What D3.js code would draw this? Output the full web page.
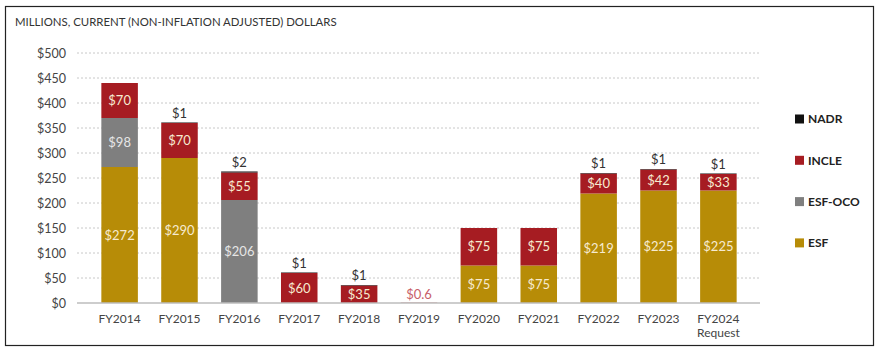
<!DOCTYPE html>
<html>
<head>
<meta charset="utf-8">
<script src="https://cdn.jsdelivr.net/npm/d3@7"></script>
<style>
  body { margin: 0; background: #fff; }
  svg { font-family: Lato, "Open Sans", sans-serif; }
</style>
</head>
<body>
<svg id="chart"></svg>
<script>
// chart data
const years = ["FY2014", "FY2015", "FY2016", "FY2017", "FY2018", "FY2019",
               "FY2020", "FY2021", "FY2022", "FY2023", "FY2024 Request"];
const esf    = [272, 290, 0, 0, 0, 0, 75, 75, 219, 225, 225];
const esfOco = [98, 0, 206, 0, 0, 0, 0, 0, 0, 0, 0];
const incle  = [70, 70, 55, 60, 35, 0.6, 75, 75, 40, 42, 33];
const nadr   = [0, 1, 2, 1, 1, 0, 0, 0, 1, 1, 1];
const yTicks = [0, 50, 100, 150, 200, 250, 300, 350, 400, 450, 500];
const seriesNames = ["ESF", "ESF-OCO", "INCLE", "NADR"];
const legendOrder = ["NADR", "INCLE", "ESF-OCO", "ESF"];

const colors = {"ESF": "#b78c07", "ESF-OCO": "#7f7f7f", "INCLE": "#a61c22", "NADR": "#111111"};

const width = 884, height = 352;
const margin = {top: 53, right: 124, bottom: 49, left: 78};
const innerW = width - margin.left - margin.right;
const innerH = height - margin.top - margin.bottom;

const svg = d3.select("#chart").attr("width", width).attr("height", height);

// frame
svg.append("rect")
  .attr("x", 5.5).attr("y", 6.5)
  .attr("width", 868).attr("height", 339)
  .attr("fill", "none").attr("stroke", "#222").attr("stroke-width", 1.2);

svg.append("text")
  .attr("x", 15).attr("y", 26)
  .style("font-size", "11.4px")
  .style("fill", "#333")
  .text("MILLIONS, CURRENT (NON-INFLATION ADJUSTED) DOLLARS");

const table = years.map((y, i) => ({
  year: y, "ESF": esf[i], "ESF-OCO": esfOco[i], "INCLE": incle[i], "NADR": nadr[i]
}));

const x = d3.scaleBand().domain(years).range([0, innerW]).padding(0.39);
const y = d3.scaleLinear().domain([0, 500]).range([innerH, 0]);

const g = svg.append("g").attr("transform", `translate(${margin.left},${margin.top})`);

// gridlines
g.append("g")
  .selectAll("line")
  .data(yTicks.filter(d => d > 0))
  .join("line")
  .attr("x1", -1).attr("x2", innerW)
  .attr("y1", d => y(d)).attr("y2", d => y(d))
  .attr("stroke", "#c8c8c8")
  .attr("stroke-dasharray", "2,2");

// y axis labels
const yAxis = d3.axisLeft(y).tickValues(yTicks).tickFormat(d => "$" + d).tickSize(0).tickPadding(12);
g.append("g").call(yAxis)
  .call(s => s.select(".domain").remove())
  .selectAll("text")
  .style("font-size", "12.5px")
  .style("fill", "#444")
  .style("font-family", "Lato, sans-serif");

const stack = d3.stack().keys(seriesNames)(table);

g.append("g")
  .selectAll("g")
  .data(stack)
  .join("g")
  .attr("fill", d => colors[d.key])
  .selectAll("rect")
  .data(d => d)
  .join("rect")
  .attr("x", d => x(d.data.year))
  .attr("width", x.bandwidth())
  .attr("y", d => y(d[1]))
  .attr("height", d => y(d[0]) - y(d[1]));

// baseline
g.append("line")
  .attr("x1", -1).attr("x2", innerW)
  .attr("y1", innerH).attr("y2", innerH)
  .attr("stroke", "#bdbdbd").attr("stroke-width", 1.5);

// labels inside segments
stack.filter(s => s.key != "NADR").forEach(s => {
  g.append("g")
    .selectAll("text")
    .data(s.filter(d => d[1] - d[0] >= 30))
    .join("text")
    .attr("x", d => x(d.data.year) + x.bandwidth() / 2)
    .attr("y", d => y((d[0] + d[1]) / 2))
    .attr("dy", "0.35em")
    .attr("text-anchor", "middle")
    .style("font-size", "13px")
    .style("fill", s.key == "ESF-OCO" ? "#e6e6e6" : "#f6ead0")
    .text(d => "$" + (d[1] - d[0]));
});

// NADR labels on top
g.append("g")
  .selectAll("text")
  .data(table.filter(d => d["NADR"] > 0))
  .join("text")
  .attr("x", d => x(d.year) + x.bandwidth() / 2)
  .attr("y", d => y(d["ESF"] + d["ESF-OCO"] + d["INCLE"] + d["NADR"]) - 5)
  .attr("text-anchor", "middle")
  .style("font-size", "13px")
  .style("fill", "#333")
  .text(d => "$" + d["NADR"]);

// tiny INCLE value (FY2019)
g.append("g")
  .selectAll("text")
  .data(table.filter(d => d["INCLE"] > 0 && d["INCLE"] < 1))
  .join("text")
  .attr("x", d => x(d.year) + x.bandwidth() / 2)
  .attr("y", d => y(d["INCLE"]) - 4)
  .attr("text-anchor", "middle")
  .style("font-size", "13px")
  .style("fill", "#c8606a")
  .text(d => "$" + d["INCLE"]);

// x labels (second word on its own line)
years.forEach(d => {
  d.split(" ").forEach((part, i) => {
    g.append("text")
      .attr("x", x(d) + x.bandwidth() / 2)
      .attr("y", innerH + 20 + i * 14)
      .attr("text-anchor", "middle")
      .style("font-size", "12px")
      .style("fill", "#444")
      .text(part);
  });
});

// legend
const legend = svg.append("g").attr("transform", "translate(795,119)");
legend.selectAll("g")
  .data(legendOrder)
  .join("g")
  .attr("transform", (d, i) => `translate(0,${i * 41.3})`)
  .each(function(d) {
    const lg = d3.select(this);
    lg.append("rect").attr("x", 0).attr("y", -4.5).attr("width", 9).attr("height", 9).attr("fill", colors[d]);
    lg.append("text").attr("x", 13).attr("y", 0).attr("dy", "0.36em")
      .style("font-size", "12px").style("font-weight", "bold").style("fill", "#222")
      .text(d);
  });
</script>
</body>
</html>
